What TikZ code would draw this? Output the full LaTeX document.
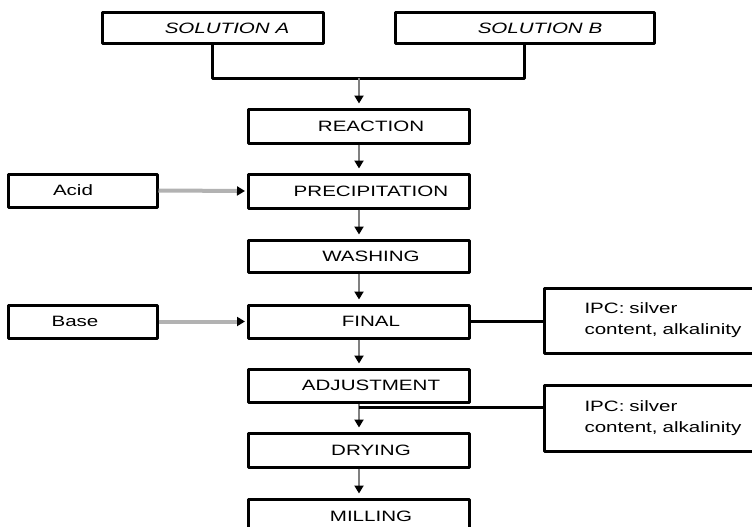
\documentclass[tikz,border=0pt]{standalone}
\usepackage{fontspec}
\setmainfont{Liberation Sans}[FakeStretch=1.37]
\usetikzlibrary{arrows.meta}
\tikzset{
  box/.style={draw, line width=3pt, minimum width=221pt, minimum height=34pt, inner sep=0pt},
  side/.style={box, minimum width=149pt, minimum height=33pt},
  ipc/.style={draw, line width=3pt, minimum height=65pt, text width=175pt, inner xsep=40pt, align=left, anchor=west},
  flow/.style={->, draw=black!50, line width=2.5pt, shorten >=4pt},
  feed/.style={->, draw=black!30, line width=4pt, shorten >=2pt},
  link/.style={line width=3pt},
}
\newcommand\sh[1]{\hspace*{#1pt}}
\begin{document}
\begin{tikzpicture}[x=1pt, y=-1pt, font=\fontsize{15}{21}\selectfont, line join=round,
    >={Triangle[width=9pt,length=8pt,color=black]}]
	\useasboundingbox (0,0) rectangle (752,527);
	\clip (0,0) rectangle (752,527);
	\node[box, minimum height=31pt] (sola) at (212.5,28.5) {\sh{29}\itshape SOLUTION A};
	\node[box, minimum width=259pt, minimum height=31pt] (solb) at (524.5,28.5) {\sh{31}\itshape SOLUTION B};
	\node[box] (reaction) at (359,126) {\sh{24}REACTION};
	\node[box] (precip) at (359,191) {\sh{24}PRECIPITATION};
	\node[box, minimum height=32pt] (washing) at (359,256) {\sh{24}WASHING};
	\node[box, minimum height=33pt] (final) at (359,321.5) {\sh{24}FINAL};
	\node[box, minimum height=33pt] (adjust) at (359,385.5) {\sh{24}ADJUSTMENT};
	\node[box] (drying) at (359,450) {\sh{24}DRYING};
	\node[box] (milling) at (359,516) {\sh{24}MILLING};
	\node[side] (acid) at (82.5,190.5) {Acid\sh{19}};
	\node[side] (base) at (82.5,321.5) {Base\sh{15}};
	\node[ipc] (ipc1) at (543,320.5) {IPC: silver\\content, alkalinity};
	\node[ipc, minimum height=66pt] (ipc2) at (543,418) {IPC: silver\\content, alkalinity};
	\coordinate (join) at (359,78);
	\coordinate (tap) at (359,407);
	\draw[link] (sola.south) |- (join) -| (solb.south);
	\draw[flow] (join) -- (reaction.north);
	\foreach \a/\b in {reaction/precip, precip/washing, washing/final, final/adjust, adjust/drying, drying/milling}
		\draw[flow] (\a.south) -- (\b.north);
	\draw[feed] (acid.east) -- (precip.west);
	\draw[feed] (base.east) -- (final.west);
	\draw[link] (final.east) -- (final.east -| ipc1.west);
	\draw[link] (tap) -- (tap -| ipc2.west);
\end{tikzpicture}
\end{document}
